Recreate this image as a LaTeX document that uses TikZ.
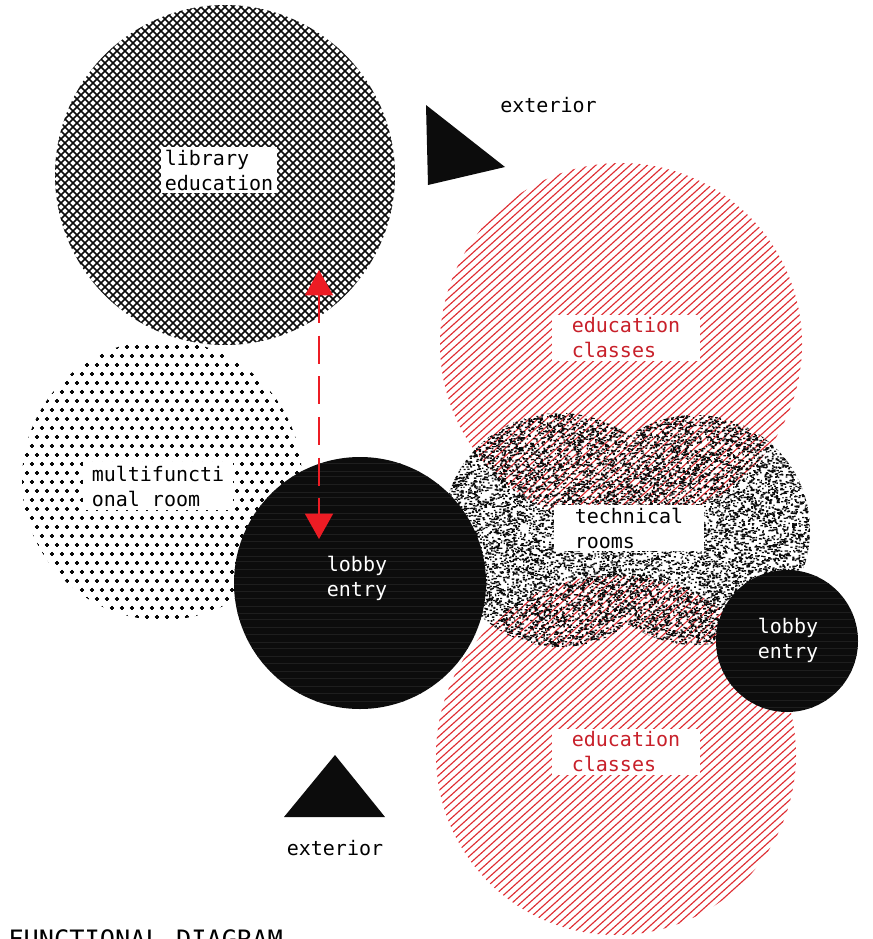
\documentclass[tikz,border=0pt]{standalone}
\usepackage{fontspec}
\setmonofont{DejaVu Sans Mono}
\usetikzlibrary{arrows.meta}

\definecolor{inkblack}{RGB}{12,12,12}
\definecolor{stripegray}{RGB}{30,30,30}
\definecolor{hatchred}{RGB}{222,45,50}
\definecolor{textred}{RGB}{200,32,42}
\definecolor{arrowred}{RGB}{237,28,36}

\begin{document}
\begin{tikzpicture}[x=0.75pt,y=-0.75pt,
  font=\ttfamily\fontsize{15pt}{18.75pt}\selectfont,
  boxlbl/.style={fill=white, align=left, text=black, inner xsep=2.6pt, inner ysep=2pt},
  redlbl/.style={boxlbl, text=textred, inner xsep=15pt},
  whitelbl/.style={align=left, text=white, inner sep=0pt},
  plainlbl/.style={inner sep=0pt, text=black},
  redline/.style={draw=hatchred, line width=0.85pt},
  hatchline/.style={draw=inkblack, line width=1.3pt},
  plusline/.style={draw=inkblack, line width=0.85pt},
  solidblack/.style={fill=inkblack},
  speck/.style={fill=inkblack},
  stripe/.style={draw=stripegray, line width=0.3pt},
  redarrow/.style={draw=arrowred, line width=1.1pt, dash pattern=on 21pt off 9.5pt,
    arrows={Triangle[length=19pt,width=21pt]-Triangle[length=19pt,width=21pt]}}
]
\useasboundingbox (0,0) rectangle (872,939);

% multifunctional room (plus grid)
\begin{scope}
  \clip (162,480) circle (140);
  \draw[plusline] \foreach \j in {0,...,32} { \foreach \i in {0,...,28} {
      ({22+\i*10+mod(\j,2)*5-2.4},{338+\j*9}) -- ++(4.8,0)
      ({22+\i*10+mod(\j,2)*5},{338+\j*9-2.4}) -- ++(0,4.8) } };
\end{scope}

% library education (cross hatch)
\begin{scope}
  \clip (225,175) circle (170);
  \draw[hatchline] \foreach \k in {-32,...,32} {
      ({25+\k*8},375) -- ({425+\k*8},-25)
      ({25+\k*8},-25) -- ({425+\k*8},375) };
\end{scope}

% education classes (top)
\begin{scope}
  \clip (621,344) circle (181);
  \draw[redline] \foreach \k in {-36,...,36} {
      ({621+\k*8.6-223},545) -- ({621+\k*8.6+223},143) };
\end{scope}
% education classes (bottom)
\begin{scope}
  \clip (616,755) circle (180);
  \draw[redline] \foreach \k in {-36,...,36} {
      ({616+\k*8.6-223},956) -- ({616+\k*8.6+223},554) };
\end{scope}

% technical rooms (random speckle)
\pgfmathsetseed{4242}
\begin{scope}
  \clip (560,530) circle (117) (695,530) circle (115);
  \foreach \b in {0,...,47} {
    \fill[speck] \foreach \c in {1,...,290} {
      ({443+rnd*368},{412+\b*5+rnd*5}) rectangle ++({1.2+rnd*1.4},1.35) };
  }
\end{scope}

% lobby entry (large)
\fill[solidblack] (360,583) circle (126);
\begin{scope}
  \clip (360,583) circle (126);
  \draw[stripe] \foreach \yy in {463,471,476,484,492,497,505,513,519,526,534,541,548,556,561,569,577,584,591,598,606,613,619,627,634,642,648,656,663,671,678,686,693,701}
    { (230,\yy) -- (490,\yy) };
\end{scope}
% lobby entry (small)
\fill[solidblack] (787,641) circle (71);
\begin{scope}
  \clip (787,641) circle (71);
  \draw[stripe] \foreach \yy in {576,583,591,598,604,612,619,627,633,641,648,655,662,670,677,685,692,700,707}
    { (710,\yy) -- (865,\yy) };
\end{scope}

% exterior triangles
\fill[solidblack] (426,105) -- (505,167) -- (428,185) -- cycle;
\fill[solidblack] (335,755) -- (284,817) -- (385,817) -- cycle;

% red dashed double arrow
\coordinate (arrowtop) at (319,270);
\coordinate (arrowbot) at (319,539);
\draw[redarrow] (arrowtop) -- (arrowbot);

% labels
\node[boxlbl] (library) at (219,170) {library\\education};
\node[boxlbl, inner xsep=6.75pt, inner ysep=3pt] (multi) at (158,486) {multifuncti\\onal room};
\node[redlbl] (edutop) at (626,338) {education\\classes};
\node[boxlbl, inner xsep=15.5pt] (tech) at (629,528) {technical\\rooms};
\node[redlbl] (edubot) at (626,752) {education\\classes};
\node[whitelbl] (lobbybig) at (357,578) {lobby\\entry};
\node[whitelbl] (lobbysmall) at (788,640) {lobby\\entry};
\node[plainlbl, anchor=base] (exttop) at (548.5,112) {exterior};
\node[plainlbl, anchor=base] (extbot) at (335,855) {exterior};
\node[plainlbl, anchor=base west, font=\ttfamily\fontsize{19pt}{22pt}\selectfont] (title) at (8,948.5) {FUNCTIONAL DIAGRAM};
\end{tikzpicture}
\end{document}
